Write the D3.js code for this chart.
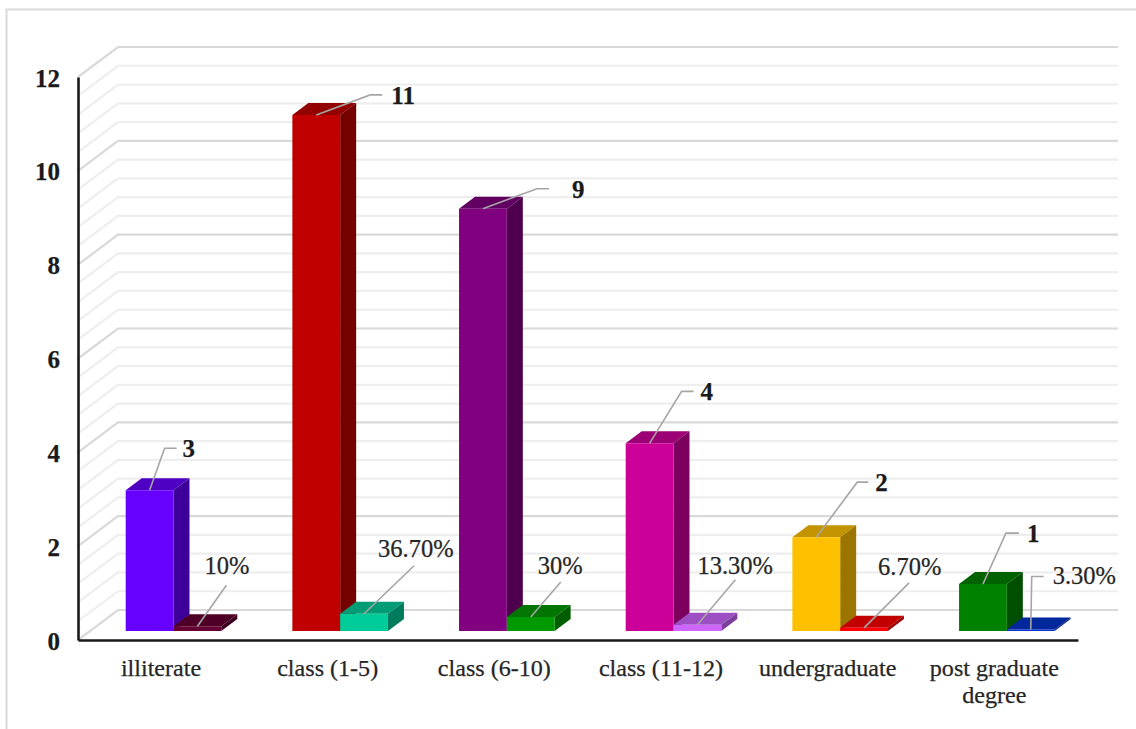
<!DOCTYPE html>
<html>
<head>
<meta charset="utf-8">
<script src="https://cdn.jsdelivr.net/npm/d3@7"></script>
<style>
  html, body { margin: 0; padding: 0; background: #fff; overflow: hidden; }
  svg { display: block; }
  text { font-family: "Liberation Serif", "Times New Roman", serif; fill: #262626; stroke: #262626; stroke-width: 0.25px; }
</style>
</head>
<body>
<svg id="chart" width="1136" height="729"></svg>
<script>
// Education level counts and their share of respondents
const categories = ["illiterate", "class (1-5)", "class (6-10)", "class (11-12)", "undergraduate", "post graduate degree"];
const counts = [3, 11, 9, 4, 2, 1];
const shares = [0.10, 0.367, 0.30, 0.133, 0.067, 0.033];
const shareLabels = ["10%", "36.70%", "30%", "13.30%", "6.70%", "3.30%"];
const countColors = ["#6600ff", "#c00000", "#800080", "#cc0099", "#ffc000", "#008000"];
const shareColors = ["#660033", "#00cc99", "#009900", "#cc66ff", "#ff0000", "#0033cc"];
const yTicks = [0, 2, 4, 6, 8, 10, 12];

// Leader line elbows relative to the top-centre of each bar: [elbowDx, elbowDy, endDx, endDy, textDx]
const countLeaders = [
  [15, -42, 27, -42, 33], [54, -20, 66, -20, 75], [54, -20, 66, -20, 89],
  [32, -52, 44, -52, 51], [41, -55, 52, -55, 59], [23, -51, 36, -51, 44]
];
const shareLeaders = [
  [29, -41, 29, -41, 7], [50, -48, 50, -48, 14], [30, -35, 30, -35, 7],
  [38, -45, 38, -45, 0], [45, -45, 45, -45, 14], [1, -53, 13, -53, 22]
];
const shareLabelDy = [-60, -65, -51, -59, -61, -53];

const svg = d3.select("#chart");
const plotLeft = 78, plotRight = 1078, plotBottom = 640, plotTop = 77;
const wallDx = 40, wallDy = -30;         // depth of the chart box
const barInsetX = 47.7, barInsetY = -9;  // bar offset inside the band and floor
const barW = 47.8, depthX = 16, depthY = -12;

const x = d3.scaleBand().domain(categories).range([plotLeft, plotRight]);
const y = d3.scaleLinear().domain([0, 12]).range([plotBottom, plotTop]);

// Outer chart frame
svg.append("rect").attr("x", 6.5).attr("y", 9.5).attr("width", 1140).attr("height", 740)
  .attr("fill", "#fff").attr("stroke", "#d9d9d9").attr("stroke-width", 2);

// Gridlines run along the side wall and then across the back wall
const gridValues = d3.range(0, 31).map(i => i * 0.4);
const grid = svg.append("g").attr("fill", "none");
gridValues.forEach((v, i) => {
  const major = i % 5 === 0;
  const pts = [[plotLeft, y(v)], [plotLeft + wallDx, y(v) + wallDy], [plotRight + wallDx, y(v) + wallDy]];
  grid.append("path").attr("d", d3.line()(pts))
    .attr("stroke", major ? "#d9d9d9" : "#eeeeee")
    .attr("stroke-width", 2.2);
});

// Front axis lines
const axisY = d3.axisLeft(y).tickValues(yTicks).tickSize(0).tickPadding(18);
const gy = svg.append("g").attr("transform", `translate(${plotLeft},0)`).call(axisY);
gy.select(".domain").attr("stroke", "#1a1a1a").attr("stroke-width", 2.6);
gy.selectAll("text").attr("font-size", 25).attr("font-weight", "bold")
  .attr("font-family", "Liberation Serif").style("fill", "#1a1a1a").attr("dy", "0.36em");

const axisX = d3.axisBottom(x).tickSize(0).tickFormat("");
const gx = svg.append("g").attr("transform", `translate(0,${plotBottom})`).call(axisX);
gx.select(".domain").attr("stroke", "#1a1a1a").attr("stroke-width", 2.6);

// Category labels; the longest one wraps onto two lines
const catLines = d => d === "post graduate degree" ? ["post graduate", "degree"] : [d];
categories.forEach(c => {
  const t = svg.append("text").attr("text-anchor", "middle").attr("font-size", 24.1);
  catLines(c).forEach((line, i) => {
    t.append("tspan").attr("x", x(c) + x.bandwidth() / 2 - 0.3)
      .attr("y", 676 + i * 27).text(line);
  });
});

// One extruded bar: top and side faces, then the front
function bar3d(g, x0, value, color) {
  const yTop = y(value) + barInsetY, yBase = y(0) + barInsetY, x1 = x0 + barW;
  const poly = (pts, fill) => g.append("polygon")
    .attr("points", pts.map(p => p.join(",")).join(" ")).attr("fill", fill);
  poly([[x0, yTop], [x1, yTop], [x1 + depthX, yTop + depthY], [x0 + depthX, yTop + depthY]],
    d3.rgb(color).darker(0.75));
  poly([[x1, yTop], [x1 + depthX, yTop + depthY], [x1 + depthX, yBase + depthY], [x1, yBase]],
    d3.rgb(color).darker(1.4));
  poly([[x0, yTop], [x1, yTop], [x1, yBase], [x0, yBase]], color);
}

const bars = svg.append("g");
categories.forEach((c, i) => {
  const x0 = x(c) + barInsetX;
  bar3d(bars, x0, counts[i], countColors[i]);
  bar3d(bars, x0 + barW, shares[i], shareColors[i]);
});

// Data labels with their leader lines
const labels = svg.append("g");
function leader(ax, ay, l) {
  labels.append("path")
    .attr("d", d3.line()([[ax, ay], [ax + l[0], ay + l[1]], [ax + l[2], ay + l[3]]]))
    .attr("fill", "none").attr("stroke", "#a6a6a6").attr("stroke-width", 1.6);
}
categories.forEach((c, i) => {
  const x0 = x(c) + barInsetX;
  const ax = x0 + barW / 2, ay = y(counts[i]) + barInsetY;
  const l = countLeaders[i];
  leader(ax, ay, l);
  labels.append("text").attr("x", ax + l[4]).attr("y", ay + l[3] + 9)
    .attr("font-size", 25).attr("font-weight", "bold").style("fill", "#1a1a1a").text(counts[i]);

  const bx = ax + barW, by = y(shares[i]) + barInsetY;
  const s = shareLeaders[i];
  leader(bx, by, s);
  labels.append("text").attr("x", bx + s[4]).attr("y", by + shareLabelDy[i] + 8)
    .attr("font-size", 24.5).text(shareLabels[i]);
});
</script>
</body>
</html>
